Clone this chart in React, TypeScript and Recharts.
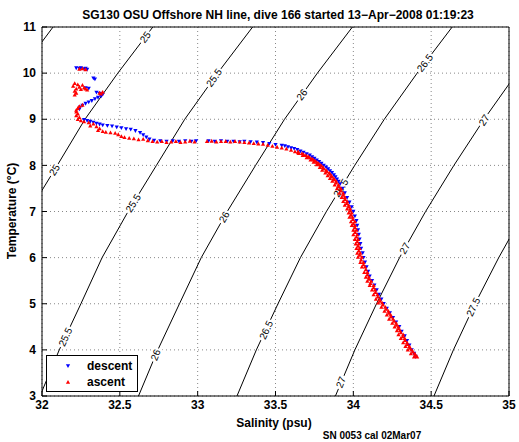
import React from 'react';
import { ScatterChart, Scatter, XAxis, YAxis, CartesianGrid, ReferenceArea } from 'recharts';

type Pt = [number, number]; // [salinity, temperature]

const FONT = '"Liberation Sans", Arial, Helvetica, sans-serif';
const W = 519;
const H = 442;
const PLOT_W = 467;
const PLOT_H = 369;

const salTicks = [32, 32.5, 33, 33.5, 34, 34.5, 35];
const tempTicks = [3, 4, 5, 6, 7, 8, 9, 10, 11];

// sigma-theta contours at whole degrees
const sig245: Pt[] = [[32.071, 11], [31.85, 10]];
const sig25: Pt[] = [[32.712, 11], [32.487, 10], [32.276, 9], [32.098, 8], [31.917, 7]];
const sig255: Pt[] = [[33.353, 11], [33.128, 10], [32.917, 9], [32.735, 8], [32.553, 7], [32.386, 6], [32.25, 5], [32.111, 4], [31.987, 3]];
const sig26: Pt[] = [[33.994, 11], [33.769, 10], [33.558, 9], [33.372, 8], [33.19, 7], [33.023, 6], [32.883, 5], [32.744, 4], [32.62, 3]];
const sig265: Pt[] = [[34.635, 11], [34.41, 10], [34.199, 9], [34.009, 8], [33.827, 7], [33.66, 6], [33.516, 5], [33.377, 4], [33.2525, 3]];
const sig27: Pt[] = [[35.05, 10], [34.84, 9], [34.646, 8], [34.464, 7], [34.297, 6], [34.149, 5], [34.01, 4], [33.885, 3]];
const sig275: Pt[] = [[35.1, 7], [34.934, 6], [34.782, 5], [34.643, 4], [34.518, 3]];

const contourLevels = ['24.5', '25', '25.5', '26', '26.5', '27', '27.5'];
const contourLines = [sig245, sig25, sig255, sig26, sig265, sig27, sig275];

// clabel positions
const labelLevel = ['25', '25', '25.5', '25.5', '25.5', '26', '26', '26', '26.5', '26.5', '26.5', '27', '27', '27', '27.5'];
const labelSal = [32.663, 32.08, 33.105, 32.586, 32.15, 33.67, 33.17, 32.73, 34.46, 33.92, 33.44, 34.84, 34.33, 33.92, 34.77];
const labelTemp = [10.78, 7.9, 9.9, 7.18, 4.28, 9.53, 6.88, 3.89, 10.22, 7.51, 4.43, 8.98, 6.2, 3.3, 4.93];

const descent: Pt[] = [
  [32.22, 10.11], [32.24, 10.1], [32.25, 10.11], [32.27, 10.09], [32.28, 10.1], [32.29, 10.08],
  [32.33, 9.89], [32.34, 9.87], [32.28, 9.68], [32.3, 9.67],
  [32.35, 9.58], [32.37, 9.56], [32.39, 9.54], [32.38, 9.5], [32.36, 9.47], [32.34, 9.44], [32.32, 9.4],
  [32.3, 9.37], [32.28, 9.34], [32.26, 9.3], [32.245, 9.26], [32.24, 9.22],
  [32.27, 8.99], [32.29, 8.97], [32.31, 8.95], [32.33, 8.93], [32.35, 8.91], [32.37, 8.89], [32.39, 8.87],
  [32.42, 8.86], [32.45, 8.85], [32.48, 8.83], [32.51, 8.81], [32.54, 8.79], [32.57, 8.78], [32.6, 8.75],
  [32.63, 8.71], [32.65, 8.66], [32.67, 8.61], [32.69, 8.57], [32.72, 8.54], [32.76, 8.53], [32.8, 8.52],
  [32.84, 8.53], [32.88, 8.52], [32.92, 8.53], [32.96, 8.52], [32.99, 8.53],
  [33.07, 8.53], [33.11, 8.52], [33.15, 8.53], [33.19, 8.52], [33.23, 8.52], [33.27, 8.51],
  [33.3, 8.52], [33.34, 8.51], [33.38, 8.5], [33.42, 8.49], [33.46, 8.47], [33.5, 8.45], [33.54, 8.43],
  [33.56, 8.42], [33.58, 8.4], [33.6, 8.38], [33.62, 8.36], [33.64, 8.34], [33.66, 8.31], [33.68, 8.28],
  [33.7, 8.25], [33.72, 8.22], [33.735, 8.18], [33.75, 8.15], [33.765, 8.11], [33.78, 8.08], [33.795, 8.04],
  [33.81, 8.0], [33.825, 7.96], [33.838, 7.92], [33.85, 7.88], [33.863, 7.84], [33.875, 7.79], [33.885, 7.75],
  [33.895, 7.7], [33.905, 7.65], [33.915, 7.6], [33.93, 7.5], [33.945, 7.4],
  [33.96, 7.3], [33.975, 7.2], [33.99, 7.1], [34.0, 7.0], [34.01, 6.9], [34.02, 6.8], [34.025, 6.7],
  [34.03, 6.6], [34.035, 6.5], [34.04, 6.4], [34.045, 6.3], [34.05, 6.2], [34.06, 6.1], [34.065, 6.0],
  [34.075, 5.9], [34.085, 5.8], [34.095, 5.7], [34.105, 5.6], [34.12, 5.5], [34.135, 5.4], [34.15, 5.3],
  [34.165, 5.2], [34.18, 5.1], [34.195, 5.0], [34.215, 4.9], [34.235, 4.8], [34.255, 4.7], [34.275, 4.6],
  [34.295, 4.5], [34.31, 4.4], [34.33, 4.3], [34.345, 4.2], [34.36, 4.1], [34.375, 4.0], [34.39, 3.92],
  [34.4, 3.86],
];

const ascent: Pt[] = [
  [32.24, 10.09], [32.26, 10.1], [32.28, 10.08],
  [32.2, 9.72], [32.21, 9.78], [32.22, 9.66], [32.23, 9.75], [32.24, 9.7], [32.25, 9.65], [32.26, 9.74],
  [32.27, 9.68], [32.28, 9.66], [32.29, 9.64], [32.21, 9.61], [32.22, 9.57], [32.21, 9.53],
  [32.37, 9.57], [32.39, 9.59], [32.38, 9.55],
  [32.26, 9.31], [32.24, 9.28], [32.23, 9.24], [32.22, 9.2], [32.22, 9.16], [32.23, 9.12], [32.22, 9.08],
  [32.24, 9.04], [32.23, 9.0], [32.25, 8.97], [32.27, 8.95], [32.3, 8.93], [32.33, 8.9], [32.31, 8.86],
  [32.35, 8.84], [32.37, 8.8], [32.36, 8.76], [32.39, 8.74], [32.41, 8.72], [32.44, 8.71], [32.47, 8.7],
  [32.49, 8.67], [32.51, 8.63], [32.53, 8.61], [32.56, 8.59], [32.59, 8.58], [32.62, 8.56], [32.65, 8.57],
  [32.68, 8.54], [32.71, 8.52], [32.74, 8.51], [32.77, 8.52], [32.8, 8.5], [32.83, 8.51], [32.86, 8.52],
  [32.89, 8.5], [32.92, 8.51], [32.95, 8.53], [32.98, 8.51],
  [33.06, 8.52], [33.09, 8.53], [33.12, 8.51], [33.15, 8.52], [33.18, 8.52], [33.21, 8.51], [33.24, 8.52],
  [33.27, 8.51], [33.3, 8.5], [33.33, 8.49], [33.36, 8.48], [33.39, 8.47], [33.42, 8.46], [33.45, 8.44],
  [33.48, 8.42], [33.51, 8.4], [33.54, 8.38], [33.57, 8.36], [33.6, 8.33],
  [33.625, 8.3], [33.645, 8.3], [33.65, 8.26], [33.67, 8.26], [33.675, 8.22], [33.695, 8.22],
  [33.7, 8.17], [33.72, 8.17], [33.725, 8.12], [33.745, 8.12], [33.745, 8.07], [33.765, 8.07],
  [33.765, 8.02], [33.785, 8.02], [33.785, 7.96], [33.805, 7.96], [33.8, 7.9], [33.825, 7.9],
  [33.82, 7.84], [33.845, 7.84], [33.835, 7.78], [33.86, 7.78], [33.85, 7.72], [33.875, 7.72],
  [33.865, 7.66], [33.89, 7.66], [33.88, 7.58], [33.905, 7.58], [33.895, 7.5], [33.92, 7.5],
  [33.91, 7.4], [33.935, 7.4], [33.925, 7.31], [33.945, 7.31], [33.935, 7.22], [33.96, 7.22],
  [33.945, 7.14], [33.97, 7.14], [33.96, 7.06], [33.98, 7.06], [33.97, 6.97], [33.99, 6.97],
  [33.975, 6.88], [33.995, 6.88], [33.985, 6.78], [34.01, 6.78], [33.99, 6.7], [34.01, 6.7],
  [34.0, 6.6], [34.02, 6.6], [34.0, 6.5], [34.025, 6.5], [34.01, 6.4], [34.03, 6.4],
  [34.015, 6.3], [34.035, 6.3], [34.02, 6.2], [34.04, 6.2], [34.025, 6.1], [34.045, 6.1],
  [34.03, 6.01], [34.055, 6.01], [34.045, 5.9], [34.065, 5.9], [34.055, 5.8], [34.075, 5.8],
  [34.07, 5.68], [34.09, 5.68], [34.08, 5.58], [34.1, 5.58], [34.09, 5.49], [34.115, 5.49],
  [34.105, 5.4], [34.13, 5.4], [34.12, 5.3], [34.14, 5.3], [34.13, 5.2], [34.155, 5.2],
  [34.145, 5.1], [34.17, 5.1], [34.16, 5.02], [34.185, 5.02], [34.18, 4.93], [34.205, 4.93],
  [34.2, 4.84], [34.225, 4.84], [34.215, 4.76], [34.24, 4.76], [34.23, 4.67], [34.255, 4.67],
  [34.25, 4.58], [34.275, 4.58], [34.265, 4.5], [34.29, 4.5], [34.28, 4.42], [34.3, 4.42],
  [34.29, 4.33], [34.32, 4.33], [34.305, 4.25], [34.33, 4.25], [34.32, 4.16], [34.345, 4.16],
  [34.335, 4.08], [34.36, 4.08], [34.35, 4.0], [34.375, 4.0], [34.37, 3.92], [34.395, 3.92],
  [34.39, 3.85], [34.41, 3.85],
  // middle of the band
  [33.645, 8.28], [33.68, 8.24], [33.71, 8.195], [33.735, 8.145], [33.755, 8.095], [33.775, 8.045],
  [33.795, 7.99], [33.81, 7.93], [33.83, 7.87], [33.85, 7.81], [33.86, 7.75], [33.877, 7.69],
  [33.89, 7.62], [33.905, 7.54], [33.92, 7.45], [33.935, 7.355], [33.947, 7.265], [33.957, 7.18],
  [33.97, 7.1], [33.98, 7.015], [33.985, 6.925], [33.997, 6.83], [34.0, 6.74], [34.01, 6.65],
  [34.012, 6.55], [34.02, 6.45], [34.025, 6.35], [34.03, 6.25], [34.035, 6.15], [34.04, 6.055],
  [34.05, 5.955], [34.065, 5.85], [34.08, 5.74], [34.09, 5.63], [34.1, 5.535], [34.11, 5.445],
  [34.13, 5.35], [34.142, 5.25], [34.157, 5.15], [34.172, 5.06], [34.19, 4.975], [34.212, 4.885],
  [34.227, 4.8], [34.242, 4.715], [34.262, 4.625], [34.277, 4.54], [34.29, 4.46], [34.305, 4.375],
  [34.317, 4.29], [34.332, 4.205], [34.347, 4.12], [34.362, 4.04], [34.382, 3.96], [34.4, 3.885],
];

const toRows = (pts: Pt[]) => pts.map(([s, t]) => ({ s, t }));

const labelRows = labelLevel.map((level, i) => ({ s: labelSal[i], t: labelTemp[i], level }));

// angle of the contour where the label sits, in screen space
function labelAngle(level: string, t: number) {
  const line = [...contourLines[contourLevels.indexOf(level)]].sort((a, b) => a[1] - b[1]);
  let i = line.findIndex((p) => p[1] >= t);
  if (i <= 0) i = i === 0 ? 1 : line.length - 1;
  const [s0, t0] = line[i - 1];
  const [s1, t1] = line[i];
  const dx = ((s1 - s0) * PLOT_W) / 3;
  const dy = ((t1 - t0) * PLOT_H) / 8;
  return (-Math.atan2(dy, dx) * 180) / Math.PI;
}

const charW = (c: string) => (c === '.' ? 2.8 : 5.6);

const ContourLabel = (props: any) => {
  const { cx, cy, payload } = props;
  const angle = labelAngle(payload.level, payload.t);
  const w = payload.level.split('').reduce((a: number, c: string) => a + charW(c), 0) + 3;
  return (
    <g transform={`translate(${cx},${cy}) rotate(${angle})`}>
      <rect x={-w / 2} y={-5} width={w} height={10} fill="#fff" />
      <text x={0} y={0} dy="0.35em" textAnchor="middle" fontSize={10} fontFamily={FONT} fill="#000">
        {payload.level}
      </text>
    </g>
  );
};

const TriDown = (props: any) => {
  const { cx, cy } = props;
  return <polygon points={`${cx - 2.1},${cy - 1.7} ${cx + 2.1},${cy - 1.7} ${cx},${cy + 2.1}`} fill="#0000ff" />;
};

const TriUp = (props: any) => {
  const { cx, cy } = props;
  return <polygon points={`${cx - 2.1},${cy + 1.7} ${cx + 2.1},${cy + 1.7} ${cx},${cy - 2.1}`} fill="#ff0000" />;
};

const NoDot = () => <g />;

const BottomTick = (props: any) => {
  const { x, y, payload } = props;
  return (
    <g>
      <line x1={x} x2={x} y1={y - 4} y2={y - 9} stroke="#000" />
      <text x={x} y={y} dy="0.75em" textAnchor="middle" fontSize={12} fontWeight="bold" fontFamily={FONT} fill="#000">
        {payload.value}
      </text>
    </g>
  );
};

const LeftTick = (props: any) => {
  const { x, y, payload } = props;
  return (
    <g>
      <line x1={x + 6} x2={x + 11} y1={y} y2={y} stroke="#000" />
      <text x={x} y={y} dy="0.35em" textAnchor="end" fontSize={12} fontWeight="bold" fontFamily={FONT} fill="#000">
        {payload.value}
      </text>
    </g>
  );
};

const TopTick = (props: any) => <line x1={props.x} x2={props.x} y1={props.y} y2={props.y + 5} stroke="#000" />;
const RightTick = (props: any) => <line x1={props.x - 5} x2={props.x} y1={props.y} y2={props.y} stroke="#000" />;

export default function App() {
  return (
    <div style={{ position: 'absolute', left: 0, top: 0, width: W, height: H, background: '#fff', fontFamily: FONT }}>
      <ScatterChart width={W} height={H} margin={{ top: 27, right: 10, bottom: 26, left: 12 }}>
        <CartesianGrid stroke="#888" strokeDasharray="1 3" />
        <XAxis type="number" dataKey="s" domain={[32, 35]} ticks={salTicks} interval={0} allowDataOverflow
          height={20} axisLine={false} tickLine={false} tickSize={0} tickMargin={4} tick={<BottomTick />} />
        <XAxis xAxisId="top" orientation="top" type="number" dataKey="s" domain={[32, 35]} ticks={salTicks}
          interval={0} height={0} axisLine={false} tickLine={false} tickSize={0} tickMargin={0} tick={<TopTick />} />
        <YAxis type="number" dataKey="t" domain={[3, 11]} ticks={tempTicks} interval={0} allowDataOverflow
          width={30} axisLine={false} tickLine={false} tickSize={0} tickMargin={6} tick={<LeftTick />} />
        <YAxis yAxisId="right" orientation="right" type="number" dataKey="t" domain={[3, 11]} ticks={tempTicks}
          interval={0} width={0} axisLine={false} tickLine={false} tickSize={0} tickMargin={0} tick={<RightTick />} />

        {contourLines.map((pts, i) => (
          <Scatter key={contourLevels[i]} data={toRows(pts)} line={{ stroke: '#000', strokeWidth: 1 }}
            shape={<NoDot />} isAnimationActive={false} />
        ))}
        <Scatter data={labelRows} shape={<ContourLabel />} isAnimationActive={false} />
        <Scatter name="descent" data={toRows(descent)} shape={<TriDown />} isAnimationActive={false} />
        <Scatter name="ascent" data={toRows(ascent)} shape={<TriUp />} isAnimationActive={false} />

        <ReferenceArea x1={32} x2={35} y1={3} y2={11} fill="none" stroke="#000" strokeWidth={1} />
      </ScatterChart>

      <svg width={W} height={H} style={{ position: 'absolute', left: 0, top: 0, pointerEvents: 'none' }}>
        <text x={278} y={15} dy="0.35em" textAnchor="middle" fontSize={12} fontWeight="bold" fontFamily={FONT}>
          SG130 OSU Offshore NH line, dive 166 started 13−Apr−2008 01:19:23
        </text>
        <text x={274} y={423} dy="0.35em" textAnchor="middle" fontSize={12} fontWeight="bold" fontFamily={FONT}>
          Salinity (psu)
        </text>
        <text x={12} y={211} dy="0.35em" textAnchor="middle" fontSize={12} fontWeight="bold" fontFamily={FONT}
          transform="rotate(-90 12 211)">
          Temperature (°C)
        </text>
        <text x={372} y={435} dy="0.35em" textAnchor="middle" fontSize={10} fontWeight="bold" fontFamily={FONT}>
          SN 0053 cal 02Mar07
        </text>
      </svg>

      <div style={{ position: 'absolute', left: 46, top: 355, width: 90, height: 35, border: '1px solid #000', background: '#fff' }}>
        <svg width={90} height={35} style={{ position: 'absolute', left: 0, top: 0 }}>
          <TriDown cx={21} cy={10} />
          <text x={40} y={10} dy="0.35em" fontSize={12} fontWeight="bold" fontFamily={FONT}>descent</text>
          <TriUp cx={21} cy={26} />
          <text x={40} y={26} dy="0.35em" fontSize={12} fontWeight="bold" fontFamily={FONT}>ascent</text>
        </svg>
      </div>
    </div>
  );
}
